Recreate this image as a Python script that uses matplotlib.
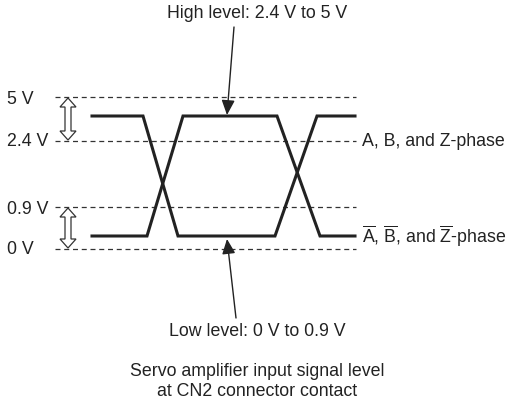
import matplotlib.pyplot as plt
from matplotlib.patches import Polygon

plt.rcParams['font.family'] = 'Liberation Sans'
plt.rcParams['mathtext.fontset'] = 'custom'
plt.rcParams['mathtext.rm'] = 'Liberation Sans'

# reference levels (diagram units, y grows downward)
level_labels = ['5 V', '2.4 V', '0.9 V', '0 V']
level_y = [97, 141, 207, 249]
label_y = [100, 142, 209, 249]

# waveforms
wave_x = [92, 143, 178, 275, 317, 355]
wave_a = [116, 116, 236, 236, 116, 116]
wave_x_bar = [92, 147, 183, 277, 320, 355]
wave_a_bar = [236, 236, 116, 116, 236, 236]

fig = plt.figure(figsize=(5.15, 4.08), dpi=100)
ax = fig.add_axes([0, 0, 1, 1])
ax.set_xlim(0, 515)
ax.set_ylim(408, 0)
ax.axis('off')

fs = 12.8
tc = '#222222'
for lab, y, ty in zip(level_labels, level_y, label_y):
    ax.plot([55, 356], [y, y], color='#333333', lw=0.9, ls=(0, (4, 3)))
    ax.text(7, ty, lab, fontsize=fs, va='center', ha='left', color=tc)

ax.plot(wave_x, wave_a, color=tc, lw=2.2, solid_joinstyle='miter')
ax.plot(wave_x_bar, wave_a_bar, color=tc, lw=2.2, solid_joinstyle='miter')


def double_arrow(cx, y0, y1, hw=8, hl=9, sw=3):
    pts = [(cx, y0), (cx + hw, y0 + hl), (cx + sw, y0 + hl), (cx + sw, y1 - hl),
           (cx + hw, y1 - hl), (cx, y1), (cx - hw, y1 - hl), (cx - sw, y1 - hl),
           (cx - sw, y0 + hl), (cx - hw, y0 + hl)]
    ax.add_patch(Polygon(pts, closed=True, facecolor='white', edgecolor='#333333',
                         lw=0.9, zorder=3))


double_arrow(68, level_y[0] + 1, level_y[1] - 1)
double_arrow(68, level_y[2] + 1, level_y[3] - 1)

# callouts
aprops = dict(arrowstyle='-|>,head_length=0.9,head_width=0.4',
              color=tc, lw=1.0, shrinkA=0, shrinkB=0)
ax.annotate('', xy=(227, 115), xytext=(234, 27), arrowprops=aprops)
ax.text(257, 14, 'High level: 2.4 V to 5 V', fontsize=fs, ha='center', va='center', color=tc)

ax.annotate('', xy=(227, 239), xytext=(236, 318), arrowprops=aprops)
ax.text(257, 331, 'Low level: 0 V to 0.9 V', fontsize=fs, ha='center', va='center', color=tc)

ax.text(362, 141, 'A, B, and Z-phase', fontsize=fs, ha='left', va='center', color=tc)
ax.text(362, 236, r'$\overline{\mathrm{A}}$, $\overline{\mathrm{B}}$, and $\overline{\mathrm{Z}}$-phase',
        fontsize=fs, ha='left', va='center', color=tc)

ax.text(257, 372, 'Servo amplifier input signal level', fontsize=fs, ha='center', va='center', color=tc)
ax.text(257, 392, 'at CN2 connector contact', fontsize=fs, ha='center', va='center', color=tc)

fig.savefig('out.png', dpi=100)
